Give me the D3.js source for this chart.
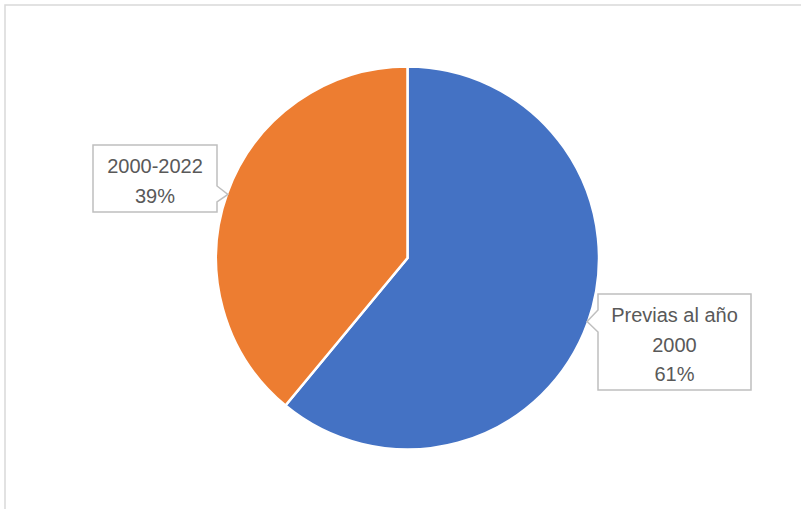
<!DOCTYPE html>
<html>
<head>
<meta charset="utf-8">
<script src="https://cdn.jsdelivr.net/npm/d3@7"></script>
<style>
  html, body { margin: 0; padding: 0; background: #ffffff; }
  svg { display: block; }
</style>
</head>
<body>
<svg id="chart" width="801" height="509"></svg>
<script>
// Share of items by period
const categories = ["Previas al año 2000", "2000-2022"];
const labelLines = [["Previas al año", "2000"], ["2000-2022"]];
const values = [61, 39];
const colors = ["#4472C4", "#ED7D31"];

const W = 801, H = 509;
const cx = 407.5, cy = 258, radius = 191.5;

const svg = d3.select("#chart");

// chart area frame (continues past the right and bottom edges)
svg.append("rect")
  .attr("x", 5).attr("y", 5)
  .attr("width", W + 20).attr("height", H + 20)
  .attr("fill", "#ffffff")
  .attr("stroke", "#d9d9d9")
  .attr("stroke-width", 1.5);

const total = d3.sum(values);
const pie = d3.pie().sort(null).value(d => d)(values);
const arc = d3.arc().innerRadius(0).outerRadius(radius);

const g = svg.append("g").attr("transform", `translate(${cx},${cy})`);

g.selectAll("path.slice")
  .data(pie)
  .join("path")
  .attr("class", "slice")
  .attr("d", arc)
  .attr("fill", (d, i) => colors[i])
  .attr("stroke", "#ffffff")
  .attr("stroke-width", 2.5)
  .attr("stroke-linejoin", "miter");

// callout boxes: box geometry, pointer side and pointer angle on the rim
const callouts = [
  { x: 598, y: 294, w: 153, h: 96, side: "left", b0: 310, b1: 332, angle: 109.5 },
  { x: 93, y: 145, w: 124, h: 67, side: "right", b0: 186, b1: 202, angle: -70.5 }
];

const rimR = radius - 1;

pie.forEach((d, i) => {
  const c = callouts[i];
  const a = c.angle * Math.PI / 180;
  const tx = cx + rimR * Math.sin(a);
  const ty = cy - rimR * Math.cos(a);
  const p = d3.path();
  const x0 = c.x, y0 = c.y, x1 = c.x + c.w, y1 = c.y + c.h;
  p.moveTo(x0, y0);
  p.lineTo(x1, y0);
  if (c.side === "right") {
    p.lineTo(x1, c.b0);
    p.lineTo(tx, ty);
    p.lineTo(x1, c.b1);
  }
  p.lineTo(x1, y1);
  p.lineTo(x0, y1);
  if (c.side === "left") {
    p.lineTo(x0, c.b1);
    p.lineTo(tx, ty);
    p.lineTo(x0, c.b0);
  }
  p.closePath();

  svg.append("path")
    .attr("d", p.toString())
    .attr("fill", "#ffffff")
    .attr("stroke", "#bfbfbf")
    .attr("stroke-width", 1.5)
    .attr("stroke-linejoin", "miter");

  const lines = labelLines[i].concat([Math.round(d.data / total * 100) + "%"]);
  const t = svg.append("text")
    .attr("x", c.x + c.w / 2)
    .attr("y", c.y + 28)
    .attr("text-anchor", "middle")
    .attr("font-family", "'Liberation Sans', Arial, sans-serif")
    .attr("font-size", 20)
    .attr("fill", "#595959");
  lines.forEach((ln, k) => {
    t.append("tspan")
      .attr("x", c.x + c.w / 2)
      .attr("dy", k === 0 ? 0 : 29.7)
      .text(ln);
  });
});
</script>
</body>
</html>
